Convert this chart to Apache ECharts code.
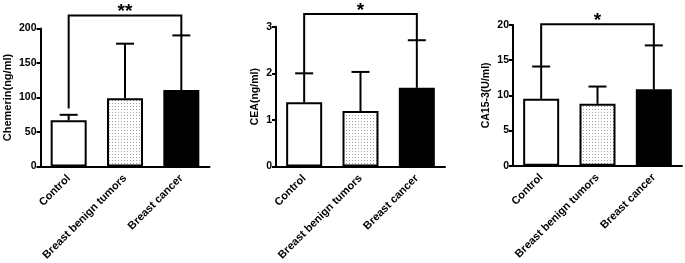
<!DOCTYPE html>
<html><head><meta charset="utf-8">
<script src="https://cdn.jsdelivr.net/npm/echarts@6/dist/echarts.min.js"></script>
<style>html,body{margin:0;padding:0;background:#fff}#c{width:685px;height:263px}</style>
</head><body><div id="c"></div>
<script>
// ---- data ----
const categories = ['Control', 'Breast benign tumors', 'Breast cancer'];

const chemerinMean = [67, 99, 111];
const chemerinUpper = [75, 178, 190];
const chemerinBracket = [0, 2, 219, 84, 190];   // from cat, to cat, top, left end, right end
const chemerinSig = '**';

const ceaMean = [1.38, 1.19, 1.69];
const ceaUpper = [2.0, 2.03, 2.71];
const ceaBracket = [0, 2, 3.27, 2.0, 2.71];
const ceaSig = '*';

const caMean = [9.5, 8.8, 10.85];
const caUpper = [14.1, 11.25, 17.1];
const caBracket = [0, 2, 20.1, 14.1, 17.1];
const caSig = '*';

const yNames = ['Chemerin(ng/ml)', 'CEA(ng/ml)', 'CA15-3(U/ml)'];
const yMax = [200, 3, 20];
const yInterval = [50, 1, 5];

// ---- styling ----
const FONT = 'Liberation Sans, Arial, sans-serif';
const pc = document.createElement('canvas');
pc.width = 3; pc.height = 3;
const g = pc.getContext('2d');
g.fillStyle = '#fff'; g.fillRect(0, 0, 3, 3);
g.fillStyle = '#a0a0a0'; g.fillRect(1, 1, 1, 1);
const fills = ['#ffffff', {image: pc, repeat: 'repeat'}, '#000000'];

const grids = [
  {left: 40.5, top: 28.5, width: 169, height: 139.5},
  {left: 276, top: 26.7, width: 169, height: 140.3},
  {left: 513, top: 25, width: 169, height: 140.7}
];
const nameGaps = [27, 15, 21];
const nameSizes = [11, 10.5, 10.5];

const means = [chemerinMean, ceaMean, caMean];
const uppers = [chemerinUpper, ceaUpper, caUpper];
const brackets = [chemerinBracket, ceaBracket, caBracket];
const sigs = [chemerinSig, ceaSig, caSig];

function errRender(params, api) {
  const x = api.value(0);
  const p0 = api.coord([x, api.value(1)]);
  const p1 = api.coord([x, api.value(2)]);
  const h = 9;
  const st = {stroke: '#000', lineWidth: 2};
  return {type: 'group', children: [
    {type: 'line', shape: {x1: p0[0], y1: p0[1], x2: p1[0], y2: p1[1]}, style: st},
    {type: 'line', shape: {x1: p1[0] - h, y1: p1[1], x2: p1[0] + h, y2: p1[1]}, style: st}
  ]};
}

function bracketRender(sig) {
  return function (params, api) {
    const a = api.coord([api.value(0), api.value(2)]);
    const b = api.coord([api.value(1), api.value(2)]);
    const la = api.coord([api.value(0), api.value(3)]);
    const rb = api.coord([api.value(1), api.value(4)]);
    return {type: 'group', children: [
      {type: 'polyline', shape: {points: [[la[0], la[1]], [a[0], a[1]], [b[0], b[1]], [rb[0], rb[1]]]},
       style: {stroke: '#000', lineWidth: 2, fill: null}},
      {type: 'text', style: {text: sig, x: (a[0] + b[0]) / 2, y: a[1] + 6, align: 'center', verticalAlign: 'bottom',
        font: 'bold 19px ' + FONT, fill: '#000'}}
    ]};
  };
}

const xAxis = [], yAxis = [], series = [];
for (let i = 0; i < 3; i++) {
  xAxis.push({
    type: 'category', gridIndex: i, data: categories,
    axisLine: {lineStyle: {color: '#000', width: 2}},
    axisTick: {alignWithLabel: true, length: 4, lineStyle: {color: '#000', width: 2}},
    axisLabel: {rotate: 45, interval: 0, margin: 10, color: '#000', fontWeight: 'bold', fontSize: 11, fontFamily: FONT}
  });
  yAxis.push({
    type: 'value', gridIndex: i, min: 0, max: yMax[i], interval: yInterval[i],
    name: yNames[i], nameLocation: 'middle', nameGap: nameGaps[i],
    nameTextStyle: {color: '#000', fontWeight: 'bold', fontSize: nameSizes[i], fontFamily: FONT},
    splitLine: {show: false},
    axisLine: {show: true, lineStyle: {color: '#000', width: 2}},
    axisTick: {show: true, length: 4, lineStyle: {color: '#000', width: 2}},
    axisLabel: {color: '#000', fontWeight: 'bold', fontSize: 10.5, fontFamily: FONT, margin: 4}
  });
  series.push({
    type: 'bar', xAxisIndex: i, yAxisIndex: i, barWidth: 36,
    data: means[i].map((v, k) => ({value: v, itemStyle: {color: fills[k]}})),
    itemStyle: {borderColor: '#000', borderWidth: 2},
    emphasis: {disabled: true}, z: 2
  });
  series.push({
    type: 'custom', xAxisIndex: i, yAxisIndex: i, renderItem: errRender,
    data: means[i].map((v, k) => [k, v, uppers[i][k]]),
    encode: {x: 0, y: [1, 2]}, z: 3, clip: false
  });
  series.push({
    type: 'custom', xAxisIndex: i, yAxisIndex: i, renderItem: bracketRender(sigs[i]),
    data: [brackets[i]], encode: {x: [0, 1], y: [2, 3, 4]}, z: 4, clip: false
  });
}

const chart = echarts.init(document.getElementById('c'), null, {renderer: 'canvas'});
chart.setOption({
  animation: false, backgroundColor: '#fff',
  grid: grids, xAxis: xAxis, yAxis: yAxis, series: series
});
</script></body></html>
